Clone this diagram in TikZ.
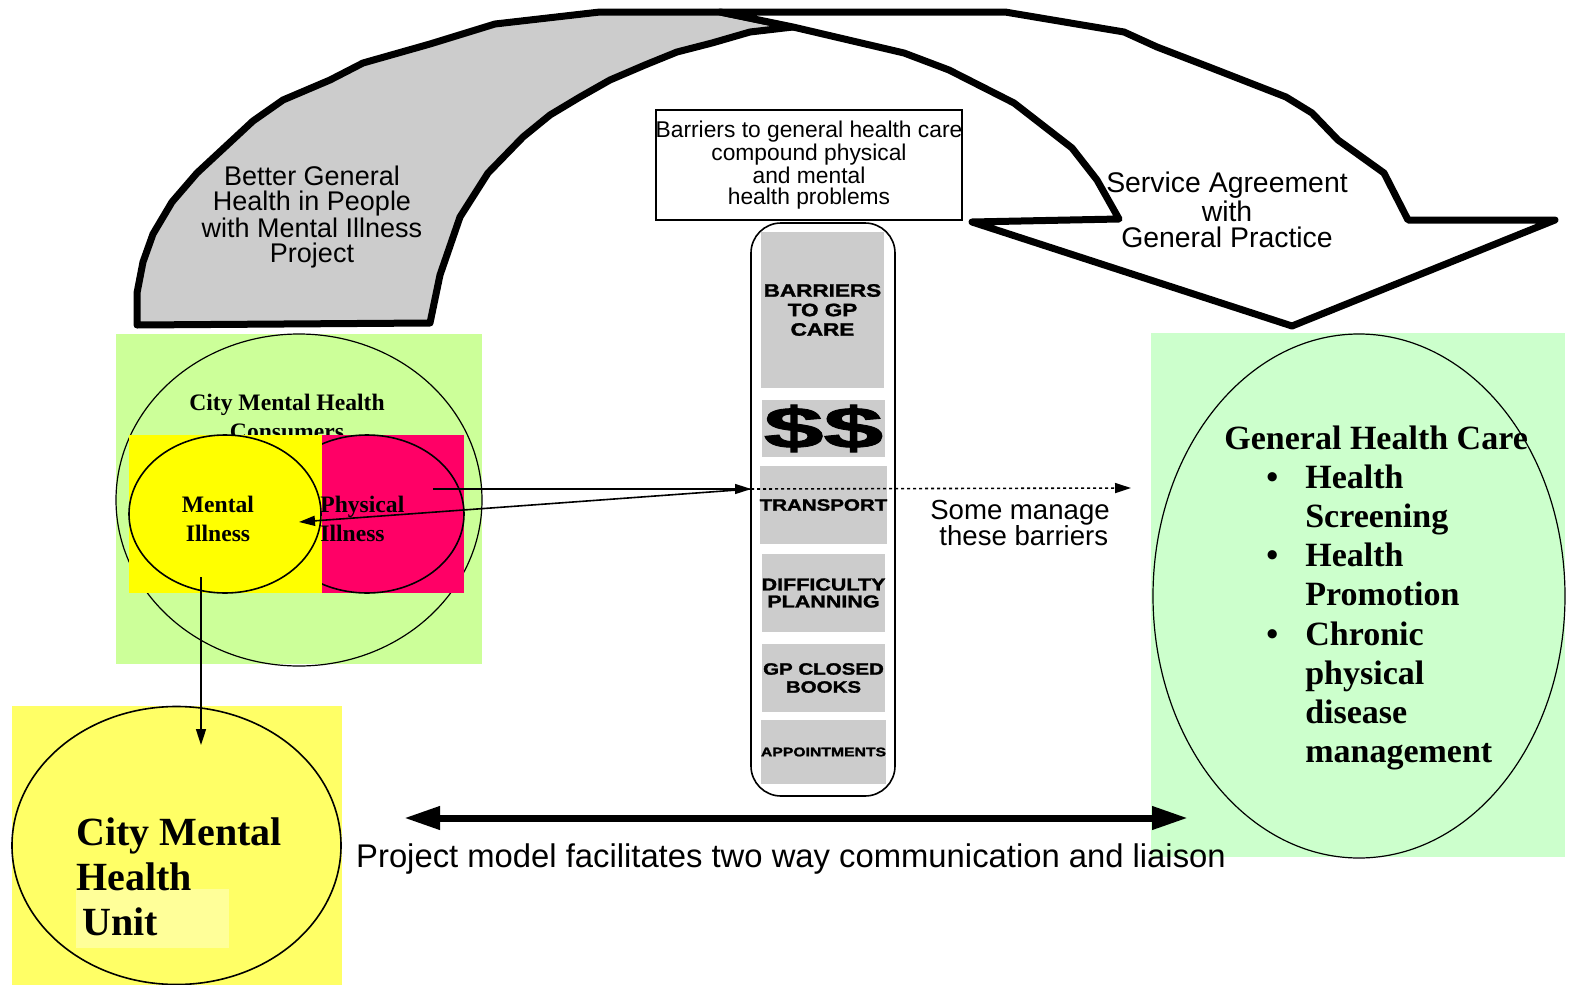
\documentclass[tikz,border=0pt]{standalone}
\usepackage{fontspec}
\setmainfont{Liberation Serif}
\setsansfont{Liberation Sans}
\newfontfamily\heavyfont[FakeBold=1.5]{Liberation Sans Bold}
\usetikzlibrary{arrows.meta}

\definecolor{arcgray}{HTML}{CCCCCC}
\definecolor{consumergreen}{HTML}{CCFF99}
\definecolor{gpgreen}{HTML}{CCFFCC}
\definecolor{illpink}{HTML}{FF0066}
\definecolor{illyellow}{HTML}{FFFF00}
\definecolor{unityellow}{HTML}{FFFF66}
\definecolor{unitpale}{HTML}{FFFF99}

\newcommand{\widecaps}[1]{\scalebox{1.25}[1]{#1}}

\tikzset{
	bigarrow/.style={draw=black, line width=3.5pt, line join=round},
	linkline/.style={line width=0.8pt, -{Triangle[length=8pt, width=5pt]}},
	sanstext/.style={align=center, inner sep=0pt},
	serifbold/.style={align=left, inner sep=0pt},
	barrierbox/.style={fill=arcgray, minimum width=61.5pt, inner sep=0pt, align=center},
}

\begin{document}
\begin{tikzpicture}[x=0.5pt, y=-0.5pt]
	\useasboundingbox (0, 0) rectangle (1575, 985);
	
	% project arc
	\draw[bigarrow, fill=arcgray] (137, 325) -- (137, 293) -- (143, 262) -- (153, 234) -- (172, 202) -- (197, 173) -- (225, 147) -- (253, 121) -- (283, 100) -- (330, 80) -- (363, 63) -- (430, 44) -- (495, 24) -- (600, 12) -- (720, 12) -- (793, 27) -- (750, 32) -- (712, 43) -- (677, 52) -- (645, 65) -- (610, 80) -- (580, 97) -- (550, 115) -- (523, 137) -- (488, 173) -- (460, 217) -- (440, 275) -- (430, 323) -- cycle;
	
	% service agreement arc
	\draw[bigarrow, fill=white] (720, 12) -- (1005, 12) -- (1124, 32) -- (1157, 47) -- (1209, 67) -- (1286, 97) -- (1312, 113) -- (1338, 140) -- (1384, 173) -- (1408, 220) -- (1555, 220) -- (1292, 326) -- (972, 222) -- (1119, 219) -- (1097, 180) -- (1072, 148) -- (1014, 103) -- (949, 70) -- (904, 53) -- (793, 27) -- cycle;
	
	\node[sanstext, font=\sffamily\fontsize{13.5}{12.5}\selectfont] (project) at (312, 217) {Better General\\Health in People\\with Mental Illness\\Project};
	\node[sanstext, font=\sffamily\fontsize{14.2}{13}\selectfont] (agreement) at (1227, 210) {Service Agreement\\with\\General Practice};
	
	\node[draw, line width=1pt, minimum width=153pt, minimum height=55pt, inner sep=0pt, align=center, font=\sffamily\fontsize{11.4}{10.5}\selectfont] (compound) at (809, 165) {Barriers to general health care\\compound physical\\and mental\\health problems};
	
	% barriers column
	\node[draw, line width=0.8pt, rounded corners=15pt, minimum width=72pt, minimum height=286.5pt] (pill) at (823, 509.5) {};
	\node[barrierbox, minimum height=78pt, font=\heavyfont\fontsize{9}{9.75}\selectfont] (gpcare) at (822.5, 310) {\widecaps{BARRIERS}\\\widecaps{TO GP}\\\widecaps{CARE}};
	\node[barrierbox, minimum height=28.5pt, font=\heavyfont\fontsize{29}{29}\selectfont] (cost) at (823.5, 428.5) {\scalebox{1.85}[1]{\$\$}};
	\node[barrierbox, minimum height=39pt, font=\heavyfont\fontsize{8.2}{9}\selectfont] (transport) at (823.5, 505) {\widecaps{TRANSPORT}};
	\node[barrierbox, minimum height=39pt, font=\heavyfont\fontsize{8.6}{8.5}\selectfont] (planning) at (823.5, 593) {\widecaps{DIFFICULTY}\\\widecaps{PLANNING}};
	\node[barrierbox, minimum height=34pt, font=\heavyfont\fontsize{8.2}{9}\selectfont] (closed) at (823.5, 678) {\widecaps{GP CLOSED}\\\widecaps{BOOKS}};
	\node[barrierbox, minimum height=32pt, font=\heavyfont\fontsize{6.3}{7}\selectfont] (appointments) at (823.5, 752) {\widecaps{APPOINTMENTS}};
	
	% consumers
	\fill[consumergreen] (116, 334) rectangle (482, 664);
	\draw[line width=0.6pt] (299, 500) ellipse [x radius=183, y radius=166];
	\node[serifbold, align=center, font=\bfseries\fontsize{11.8}{14.5}\selectfont] (consumers) at (287, 417) {City Mental Health\\Consumers};
	\fill[illpink] (322, 435) rectangle (464, 593);
	\draw[line width=0.8pt] (367, 514) ellipse [x radius=97, y radius=79];
	\fill[illyellow] (129, 435) rectangle (322, 593);
	\draw[line width=0.8pt] (225, 514) ellipse [x radius=96, y radius=79];
	\node[serifbold, align=center, font=\bfseries\fontsize{11.8}{14.5}\selectfont] (mental) at (218, 519) {Mental\\Illness};
	\node[serifbold, anchor=west, font=\bfseries\fontsize{11.8}{14.5}\selectfont] (physical) at (320, 519) {Physical\\Illness};
	
	% mental health unit
	\fill[unityellow] (12, 706) rectangle (342, 985);
	\draw[line width=0.8pt] (176.5, 845.5) ellipse [x radius=164.5, y radius=139];
	\fill[unitpale] (76, 889) rectangle (229, 948);
	\node[serifbold, anchor=west, font=\bfseries\fontsize{20}{22.5}\selectfont] (unit) at (76, 877) {City Mental\\Health\\\hspace*{3pt}Unit};
	
	\coordinate (physout) at (433, 489);
	\coordinate (pillin) at (751, 489);
	\coordinate (mentalin) at (299, 522);
	\coordinate (gpin) at (1131, 488);
	\coordinate (mentalout) at (201, 577);
	\coordinate (unitin) at (201, 745);
	
	\path[linkline] (physout) edge (pillin);
	\path[linkline] (pillin) edge (mentalin);
	\path[linkline, dash pattern=on 1.5pt off 1.5pt] (pillin) edge (gpin);
	\path[linkline] (mentalout) edge (unitin);
	
	\node[sanstext, font=\sffamily\fontsize{13.8}{13}\selectfont] (manage) at (1020, 523) {Some manage\\\ these barriers};
	
	% general health care
	\fill[gpgreen] (1151, 333) rectangle (1565, 857);
	\draw[line width=0.6pt] (1359, 596) ellipse [x radius=206, y radius=262];
	\node[serifbold, anchor=west, font=\bfseries\fontsize{17}{19.6}\selectfont] (general) at (1224, 598) {\begin{tabular}{@{}l@{\hspace{13.5pt}}l@{}}
		\multicolumn{2}{@{}l@{}}{General Health Care}\\
		\hspace*{21pt}\textbullet & Health\\
		& Screening\\
		\hspace*{21pt}\textbullet & Health\\
		& Promotion\\
		\hspace*{21pt}\textbullet & Chronic\\
		& physical\\
		& disease\\
		& management
	\end{tabular}};
	
	% two way link
	\coordinate (linkleft) at (404, 818);
	\coordinate (linkright) at (1188, 818);
	\path[line width=3.5pt, {Triangle[length=18pt, width=11pt]}-{Triangle[length=18pt, width=11pt]}] (linkleft) edge (linkright);
	\node[sanstext, font=\sffamily\fontsize{16.4}{16}\selectfont] (liaison) at (791, 859) {Project model facilitates two way communication and liaison};
	
\end{tikzpicture}
\end{document}
